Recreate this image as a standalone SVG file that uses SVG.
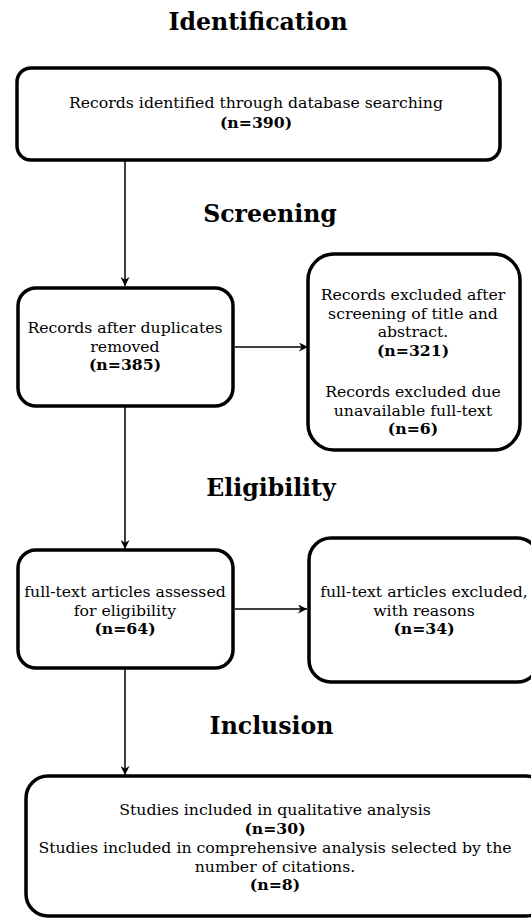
<svg xmlns="http://www.w3.org/2000/svg" width="531" height="919" viewBox="0 0 531 919">
<defs>
<marker id="ah" viewBox="0 0 10 10" refX="10" refY="5" markerWidth="9" markerHeight="9" markerUnits="userSpaceOnUse" orient="auto">
<path d="M0,0 L10,5 L0,10 L3,5 z" fill="#000"/>
</marker>
</defs>
<style>
.box{fill:#fff;stroke:#000;stroke-width:3.5}
.t{font-family:"DejaVu Serif",serif;font-size:15.7px;fill:#000;text-anchor:middle}
.b{font-weight:bold}
.h{font-family:"DejaVu Serif",serif;font-size:23.6px;font-weight:bold;fill:#000;text-anchor:middle}
.c{stroke:#000;stroke-width:1.5;fill:none;marker-end:url(#ah)}
</style>
<text class="h" x="258" y="30">Identification</text>
<text class="h" x="270" y="222">Screening</text>
<text class="h" x="271" y="496">Eligibility</text>
<text class="h" x="271.5" y="734">Inclusion</text>
<g id="connectors">
<line class="c" x1="125" y1="161" x2="125" y2="286"/>
<line class="c" x1="125" y1="407" x2="125" y2="549"/>
<line class="c" x1="125" y1="669" x2="125" y2="775"/>
<line class="c" x1="235" y1="347" x2="308" y2="347"/>
<line class="c" x1="235" y1="609" x2="307" y2="609"/>
</g>
<g id="n1">
<rect class="box" x="17" y="68" width="483" height="92" rx="14"/>
<text class="t" x="256" y="108">Records identified through database searching</text>
<text class="t b" x="256" y="128">(n=390)</text>
</g>
<g id="n2">
<rect class="box" x="18" y="288" width="215" height="118" rx="18"/>
<text class="t" x="125" y="333">Records after duplicates</text>
<text class="t" x="125" y="351.5">removed</text>
<text class="t b" x="125" y="370">(n=385)</text>
</g>
<g id="n3">
<rect class="box" x="308" y="254" width="212" height="196" rx="26"/>
<text class="t" x="413" y="300">Records excluded after</text>
<text class="t" x="413" y="318.5">screening of title and</text>
<text class="t" x="413" y="337">abstract.</text>
<text class="t b" x="413" y="356">(n=321)</text>
<text class="t" x="413" y="397">Records excluded due</text>
<text class="t" x="413" y="415.5">unavailable full-text</text>
<text class="t b" x="413" y="434">(n=6)</text>
</g>
<g id="n4">
<rect class="box" x="18" y="550" width="215" height="118" rx="18"/>
<text class="t" x="125" y="597">full-text articles assessed</text>
<text class="t" x="125" y="615.5">for eligibility</text>
<text class="t b" x="125" y="634">(n=64)</text>
</g>
<g id="n5">
<rect class="box" x="309" y="538" width="230" height="144" rx="22"/>
<text class="t" x="424" y="597">full-text articles excluded,</text>
<text class="t" x="424" y="615.5">with reasons</text>
<text class="t b" x="424" y="634">(n=34)</text>
</g>
<g id="n6">
<rect class="box" x="26" y="776" width="522" height="140" rx="22"/>
<text class="t" x="275" y="815">Studies included in qualitative analysis</text>
<text class="t b" x="275" y="834">(n=30)</text>
<text class="t" x="275" y="853">Studies included in comprehensive analysis selected by the</text>
<text class="t" x="275" y="871.5">number of citations.</text>
<text class="t b" x="275" y="890">(n=8)</text>
</g>
</svg>
